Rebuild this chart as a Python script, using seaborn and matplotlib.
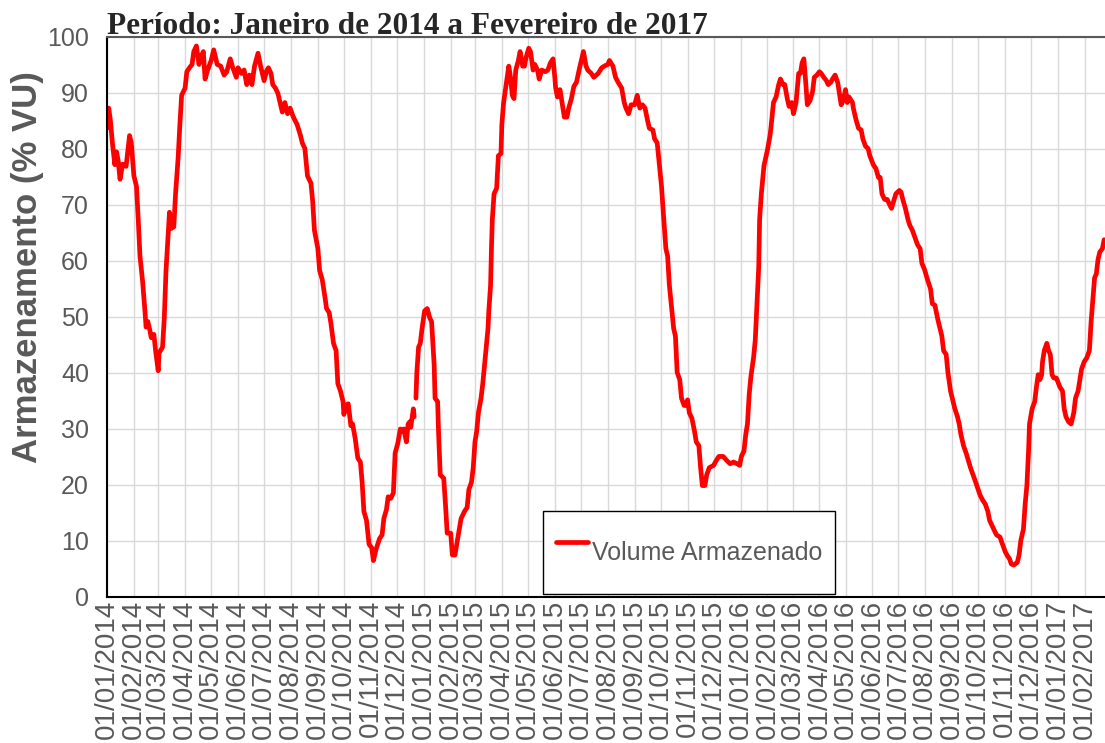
import pandas as pd
import numpy as np
import matplotlib.pyplot as plt
import matplotlib.dates as mdates
import seaborn as sns

# Volume armazenado (% VU), por ano (dia/mes)
dias_2014 = ["01/01", "03/01", "05/01", "07/01", "10/01", "12/01", "14/01", "16/01", "19/01", "23/01",
             "27/01", "29/01", "01/02", "04/02", "06/02", "08/02", "11/02", "14/02", "15/02", "17/02",
             "19/02", "21/02", "24/02", "26/02", "01/03", "02/03", "06/03", "08/03", "10/03", "12/03",
             "14/03", "16/03", "19/03", "21/03", "24/03", "26/03", "28/03", "01/04", "03/04", "06/04",
             "09/04", "11/04", "14/04", "17/04", "19/04", "22/04", "24/04", "27/04", "01/05", "04/05",
             "08/05", "12/05", "16/05", "19/05", "23/05", "26/05", "30/05", "01/06", "05/06", "08/06",
             "11/06", "14/06", "17/06", "20/06", "24/06", "27/06", "01/07", "04/07", "06/07", "09/07",
             "11/07", "14/07", "17/07", "19/07", "22/07", "25/07", "28/07", "31/07", "03/08", "05/08",
             "08/08", "12/08", "14/08", "17/08", "20/08", "24/08", "26/08", "28/08", "01/09", "03/09",
             "06/09", "09/09", "11/09", "14/09", "16/09", "19/09", "22/09", "24/09", "27/09", "30/09",
             "01/10", "03/10", "06/10", "09/10", "11/10", "14/10", "17/10", "20/10", "22/10", "24/10",
             "27/10", "30/10", "02/11", "04/11", "07/11", "11/11", "14/11", "16/11", "19/11", "21/11",
             "24/11", "27/11", "29/11", "02/12", "05/12", "07/12", "09/12", "12/12", "14/12", "16/12",
             "17/12", "20/12", "21/12", "22/12", "23/12", "24/12", "26/12", "28/12", "30/12"]
vol_2014 = [83.7, 87.3, 85.0, 81.4, 77.2, 79.5, 77.8, 74.6, 77.3, 76.9,
            82.4, 81.1, 75.2, 73.3, 67.4, 60.9, 56.4, 50.5, 48.2, 49.2,
            47.9, 46.3, 46.9, 44.0, 40.4, 43.6, 44.6, 49.8, 58.3, 63.5,
            68.7, 65.8, 66.1, 72.0, 78.5, 84.4, 89.6, 90.9, 93.8, 94.5,
            95.1, 97.4, 98.4, 95.1, 96.4, 97.4, 92.5, 94.1, 95.8, 97.7,
            95.1, 94.8, 93.2, 93.8, 96.1, 94.5, 92.8, 94.5, 93.5, 94.1,
            91.5, 93.2, 91.5, 94.8, 97.1, 94.8, 92.2, 94.0, 94.5, 93.5,
            91.5, 90.9, 89.9, 88.6, 86.6, 88.3, 86.3, 87.3, 86.0, 85.3,
            84.4, 82.4, 81.1, 80.1, 75.2, 73.9, 70.7, 65.5, 62.2, 58.3,
            56.7, 53.7, 51.5, 50.8, 48.9, 45.3, 44.0, 38.1, 36.8, 34.9,
            32.6, 34.2, 34.5, 30.6, 30.9, 28.3, 24.8, 24.1, 20.5, 15.3,
            13.7, 9.4, 8.8, 6.5, 8.5, 10.4, 11.1, 14.0, 15.6, 17.9,
            17.6, 18.6, 25.7, 27.4, 30.0, 29.6, 30.0, 27.7, 30.9, 31.3,
            30.3, 33.6, 32.2, np.nan, 35.5, 40.0, 44.6, 45.3, 47.9]

dias_2015 = ["02/01", "05/01", "08/01", "10/01", "13/01", "14/01", "17/01", "18/01", "20/01", "24/01",
             "26/01", "28/01", "01/02", "03/02", "06/02", "08/02", "11/02", "13/02", "17/02", "20/02",
             "22/02", "25/02", "27/02", "01/03", "03/03", "05/03", "08/03", "10/03", "12/03", "14/03",
             "16/03", "17/03", "19/03", "20/03", "21/03", "23/03", "26/03", "28/03", "31/03", "01/04",
             "03/04", "06/04", "09/04", "11/04", "13/04", "15/04", "17/04", "20/04", "22/04", "25/04",
             "27/04", "29/04", "02/05", "04/05", "07/05", "09/05", "12/05", "14/05", "17/05", "21/05",
             "24/05", "27/05", "30/05", "01/06", "02/06", "04/06", "07/06", "10/06", "12/06", "15/06",
             "17/06", "20/06", "23/06", "26/06", "29/06", "01/07", "04/07", "07/07", "09/07", "13/07",
             "16/07", "21/07", "25/07", "28/07", "01/08", "03/08", "07/08", "10/08", "13/08", "17/08",
             "20/08", "22/08", "25/08", "28/08", "01/09", "04/09", "07/09", "10/09", "13/09", "16/09",
             "18/09", "22/09", "24/09", "27/09", "29/09", "02/10", "04/10", "07/10", "09/10", "11/10",
             "14/10", "16/10", "18/10", "20/10", "23/10", "25/10", "28/10", "30/10", "01/11", "03/11",
             "06/11", "09/11", "11/11", "14/11", "16/11", "18/11", "21/11", "23/11", "26/11", "01/12",
             "03/12", "07/12", "12/12", "16/12", "20/12", "24/12", "28/12", "31/12"]
vol_2015 = [51.1, 51.5, 49.8, 49.2, 41.4, 35.5, 34.9, 29.6, 21.8, 21.2,
            16.6, 11.4, 11.4, 7.5, 7.5, 9.4, 12.1, 14.0, 15.3, 16.0,
            19.2, 20.5, 23.1, 27.7, 29.6, 32.9, 35.5, 38.1, 41.4, 44.6,
            47.9, 51.1, 55.7, 62.2, 67.4, 72.0, 73.0, 78.8, 79.2, 84.4,
            88.3, 91.5, 94.8, 92.8, 89.6, 89.0, 94.1, 95.8, 97.4, 94.8,
            94.8, 96.4, 98.0, 97.4, 94.1, 95.1, 94.1, 92.5, 94.1, 93.8,
            94.1, 95.4, 96.1, 92.8, 90.9, 89.3, 90.6, 87.6, 85.7, 85.7,
            87.3, 88.9, 91.2, 91.9, 94.1, 95.4, 97.4, 94.8, 94.1, 93.5,
            92.8, 93.5, 94.5, 94.8, 95.1, 95.8, 94.8, 92.8, 91.9, 90.9,
            88.3, 87.3, 86.3, 87.9, 87.9, 89.6, 87.3, 87.9, 87.3, 85.0,
            83.7, 83.4, 81.8, 81.1, 77.9, 73.3, 68.7, 62.2, 60.9, 55.7,
            51.1, 47.9, 46.6, 40.1, 38.8, 35.5, 34.2, 34.2, 35.2, 32.9,
            31.9, 29.6, 27.7, 27.0, 23.1, 19.9, 19.9, 21.8, 23.1, 23.5,
            24.1, 25.1, 25.1, 24.4, 23.8, 24.1, 23.8, 23.5]

dias_2016 = ["02/01", "05/01", "07/01", "09/01", "11/01", "13/01", "16/01", "18/01", "20/01", "22/01",
             "23/01", "25/01", "28/01", "01/02", "04/02", "05/02", "08/02", "11/02", "14/02", "16/02",
             "19/02", "21/02", "24/02", "26/02", "29/02", "02/03", "05/03", "08/03", "10/03", "12/03",
             "14/03", "16/03", "18/03", "21/03", "24/03", "26/03", "29/03", "01/04", "03/04", "06/04",
             "09/04", "11/04", "14/04", "16/04", "19/04", "22/04", "24/04", "26/04", "28/04", "01/05",
             "03/05", "05/05", "09/05", "10/05", "13/05", "16/05", "19/05", "21/05", "24/05", "27/05",
             "29/05", "02/06", "05/06", "08/06", "10/06", "12/06", "15/06", "18/06", "21/06", "23/06",
             "26/06", "28/06", "02/07", "04/07", "06/07", "09/07", "12/07", "14/07", "17/07", "20/07",
             "23/07", "26/07", "28/07", "31/07", "04/08", "07/08", "09/08", "12/08", "15/08", "18/08",
             "20/08", "22/08", "25/08", "27/08", "30/08", "02/09", "04/09", "07/09", "09/09", "11/09",
             "14/09", "17/09", "20/09", "22/09", "25/09", "28/09", "03/10", "06/10", "09/10", "12/10",
             "14/10", "17/10", "20/10", "22/10", "26/10", "28/10", "01/11", "03/11", "06/11", "08/11",
             "11/11", "15/11", "17/11", "19/11", "22/11", "24/11", "26/11", "28/11", "29/11", "02/12",
             "05/12", "07/12", "09/12", "11/12", "13/12", "14/12", "16/12", "19/12", "21/12", "23/12",
             "25/12", "27/12", "30/12"]
vol_2016 = [25.1, 26.1, 29.0, 30.9, 36.2, 39.4, 42.7, 45.9, 52.4, 59.0,
            67.4, 72.0, 77.0, 79.8, 82.4, 83.7, 88.3, 89.3, 91.5, 92.5,
            91.5, 91.5, 88.9, 87.6, 88.3, 86.3, 88.3, 93.5, 93.5, 95.4,
            96.1, 92.2, 87.9, 88.6, 90.2, 92.8, 93.2, 93.8, 93.5, 92.8,
            92.2, 91.5, 91.9, 92.5, 93.2, 91.9, 89.9, 87.9, 88.6, 90.6,
            88.3, 89.3, 88.3, 87.3, 85.3, 83.7, 83.4, 81.8, 80.5, 80.1,
            78.8, 77.2, 76.5, 74.9, 74.9, 72.0, 71.0, 71.0, 70.0, 69.4,
            71.0, 72.0, 72.6, 72.3, 71.0, 69.4, 67.4, 66.4, 65.5, 64.2,
            62.9, 62.2, 59.6, 58.5, 56.4, 55.0, 52.4, 52.1, 49.8, 47.9,
            46.6, 44.0, 43.3, 40.1, 36.8, 34.9, 33.6, 32.2, 30.9, 29.0,
            27.0, 25.7, 24.1, 23.1, 21.8, 20.5, 18.2, 17.3, 16.6, 15.3,
            13.7, 12.7, 11.7, 11.1, 10.7, 9.8, 8.1, 7.5, 6.8, 5.9,
            5.7, 6.2, 7.5, 10.1, 12.1, 16.6, 19.9, 26.4, 30.9, 33.6,
            34.9, 37.5, 39.7, 38.8, 39.7, 42.0, 44.0, 45.3, 44.0, 43.3,
            39.7, 39.1, 39.1]

dias_2017 = ["03/01", "06/01", "08/01", "10/01", "13/01", "16/01", "19/01", "21/01", "24/01", "26/01",
             "28/01", "31/01", "03/02", "06/02", "08/02", "10/02", "12/02", "14/02", "16/02", "18/02",
             "21/02", "23/02"]
vol_2017 = [37.5, 36.8, 33.6, 32.2, 31.3, 30.9, 32.9, 35.5, 36.8, 38.8,
            40.7, 42.0, 42.7, 44.0, 49.2, 53.1, 57.0, 57.7, 60.3, 61.6,
            62.2, 63.8]


def monta(dias, vols, ano):
    datas = pd.to_datetime([f"{d}/{ano}" for d in dias], format="%d/%m/%Y")
    return pd.DataFrame({"data": datas, "volume": vols})


df = pd.concat([monta(dias_2014, vol_2014, 2014),
                monta(dias_2015, vol_2015, 2015),
                monta(dias_2016, vol_2016, 2016),
                monta(dias_2017, vol_2017, 2017)], ignore_index=True)
# falha nos dados em dez/2014 -> trechos separados
df["trecho"] = df["volume"].isna().cumsum()
df = df.dropna()

sns.set_style("whitegrid", {"grid.color": "#d9d9d9"})
plt.rcParams["font.family"] = ["Liberation Sans", "DejaVu Sans"]
cinza = "#595959"

fig = plt.figure(figsize=(11.05, 7.43), dpi=100)
ax = fig.add_axes([107 / 1105, 146 / 743, 998 / 1105, 560 / 743])

sns.lineplot(data=df, x="data", y="volume", units="trecho", estimator=None,
             color="#ff0000", linewidth=3.4, ax=ax, label="Volume Armazenado")

ax.set_xlim(pd.Timestamp("2014-01-01"), pd.Timestamp("2017-02-24"))
ax.set_ylim(0, 100)
ax.set_yticks(range(0, 101, 10))
ax.xaxis.set_major_locator(mdates.MonthLocator())
ax.xaxis.set_major_formatter(mdates.DateFormatter("%d/%m/%Y"))
ax.grid(True, color="#d9d9d9", linewidth=1)

ax.tick_params(axis="x", labelrotation=90, labelsize=20, labelcolor=cinza, length=0, pad=2)
ax.tick_params(axis="y", labelsize=18, labelcolor=cinza, length=0, pad=13)

ax.set_xlabel("")
ax.set_ylabel("Armazenamento (% VU)", fontsize=25, fontweight="bold", color=cinza)
ax.yaxis.set_label_coords(-0.063, 0.589)
ax.set_title("Período: Janeiro de 2014 a Fevereiro de 2017", loc="left",
             fontfamily="Liberation Serif", fontweight="bold", fontsize=22.5, pad=2)

for lado in ["left", "bottom"]:
    ax.spines[lado].set_color("black")
    ax.spines[lado].set_linewidth(1.5)
ax.spines["top"].set_color(cinza)
ax.spines["top"].set_linewidth(1.5)
ax.spines["right"].set_visible(False)

handles, labels = ax.get_legend_handles_labels()
leg = ax.legend(handles[:1], labels[:1], loc="lower left", bbox_to_anchor=(0.437, 0.005),
                borderaxespad=0, frameon=True, fancybox=False, edgecolor="black", framealpha=1,
                fontsize=18, handlelength=1.3, handletextpad=0.15, handleheight=3.2, borderpad=0.5)
leg.get_frame().set_linewidth(1)
for t in leg.get_texts():
    t.set_color(cinza)

fig.savefig("out.png", dpi=100)
